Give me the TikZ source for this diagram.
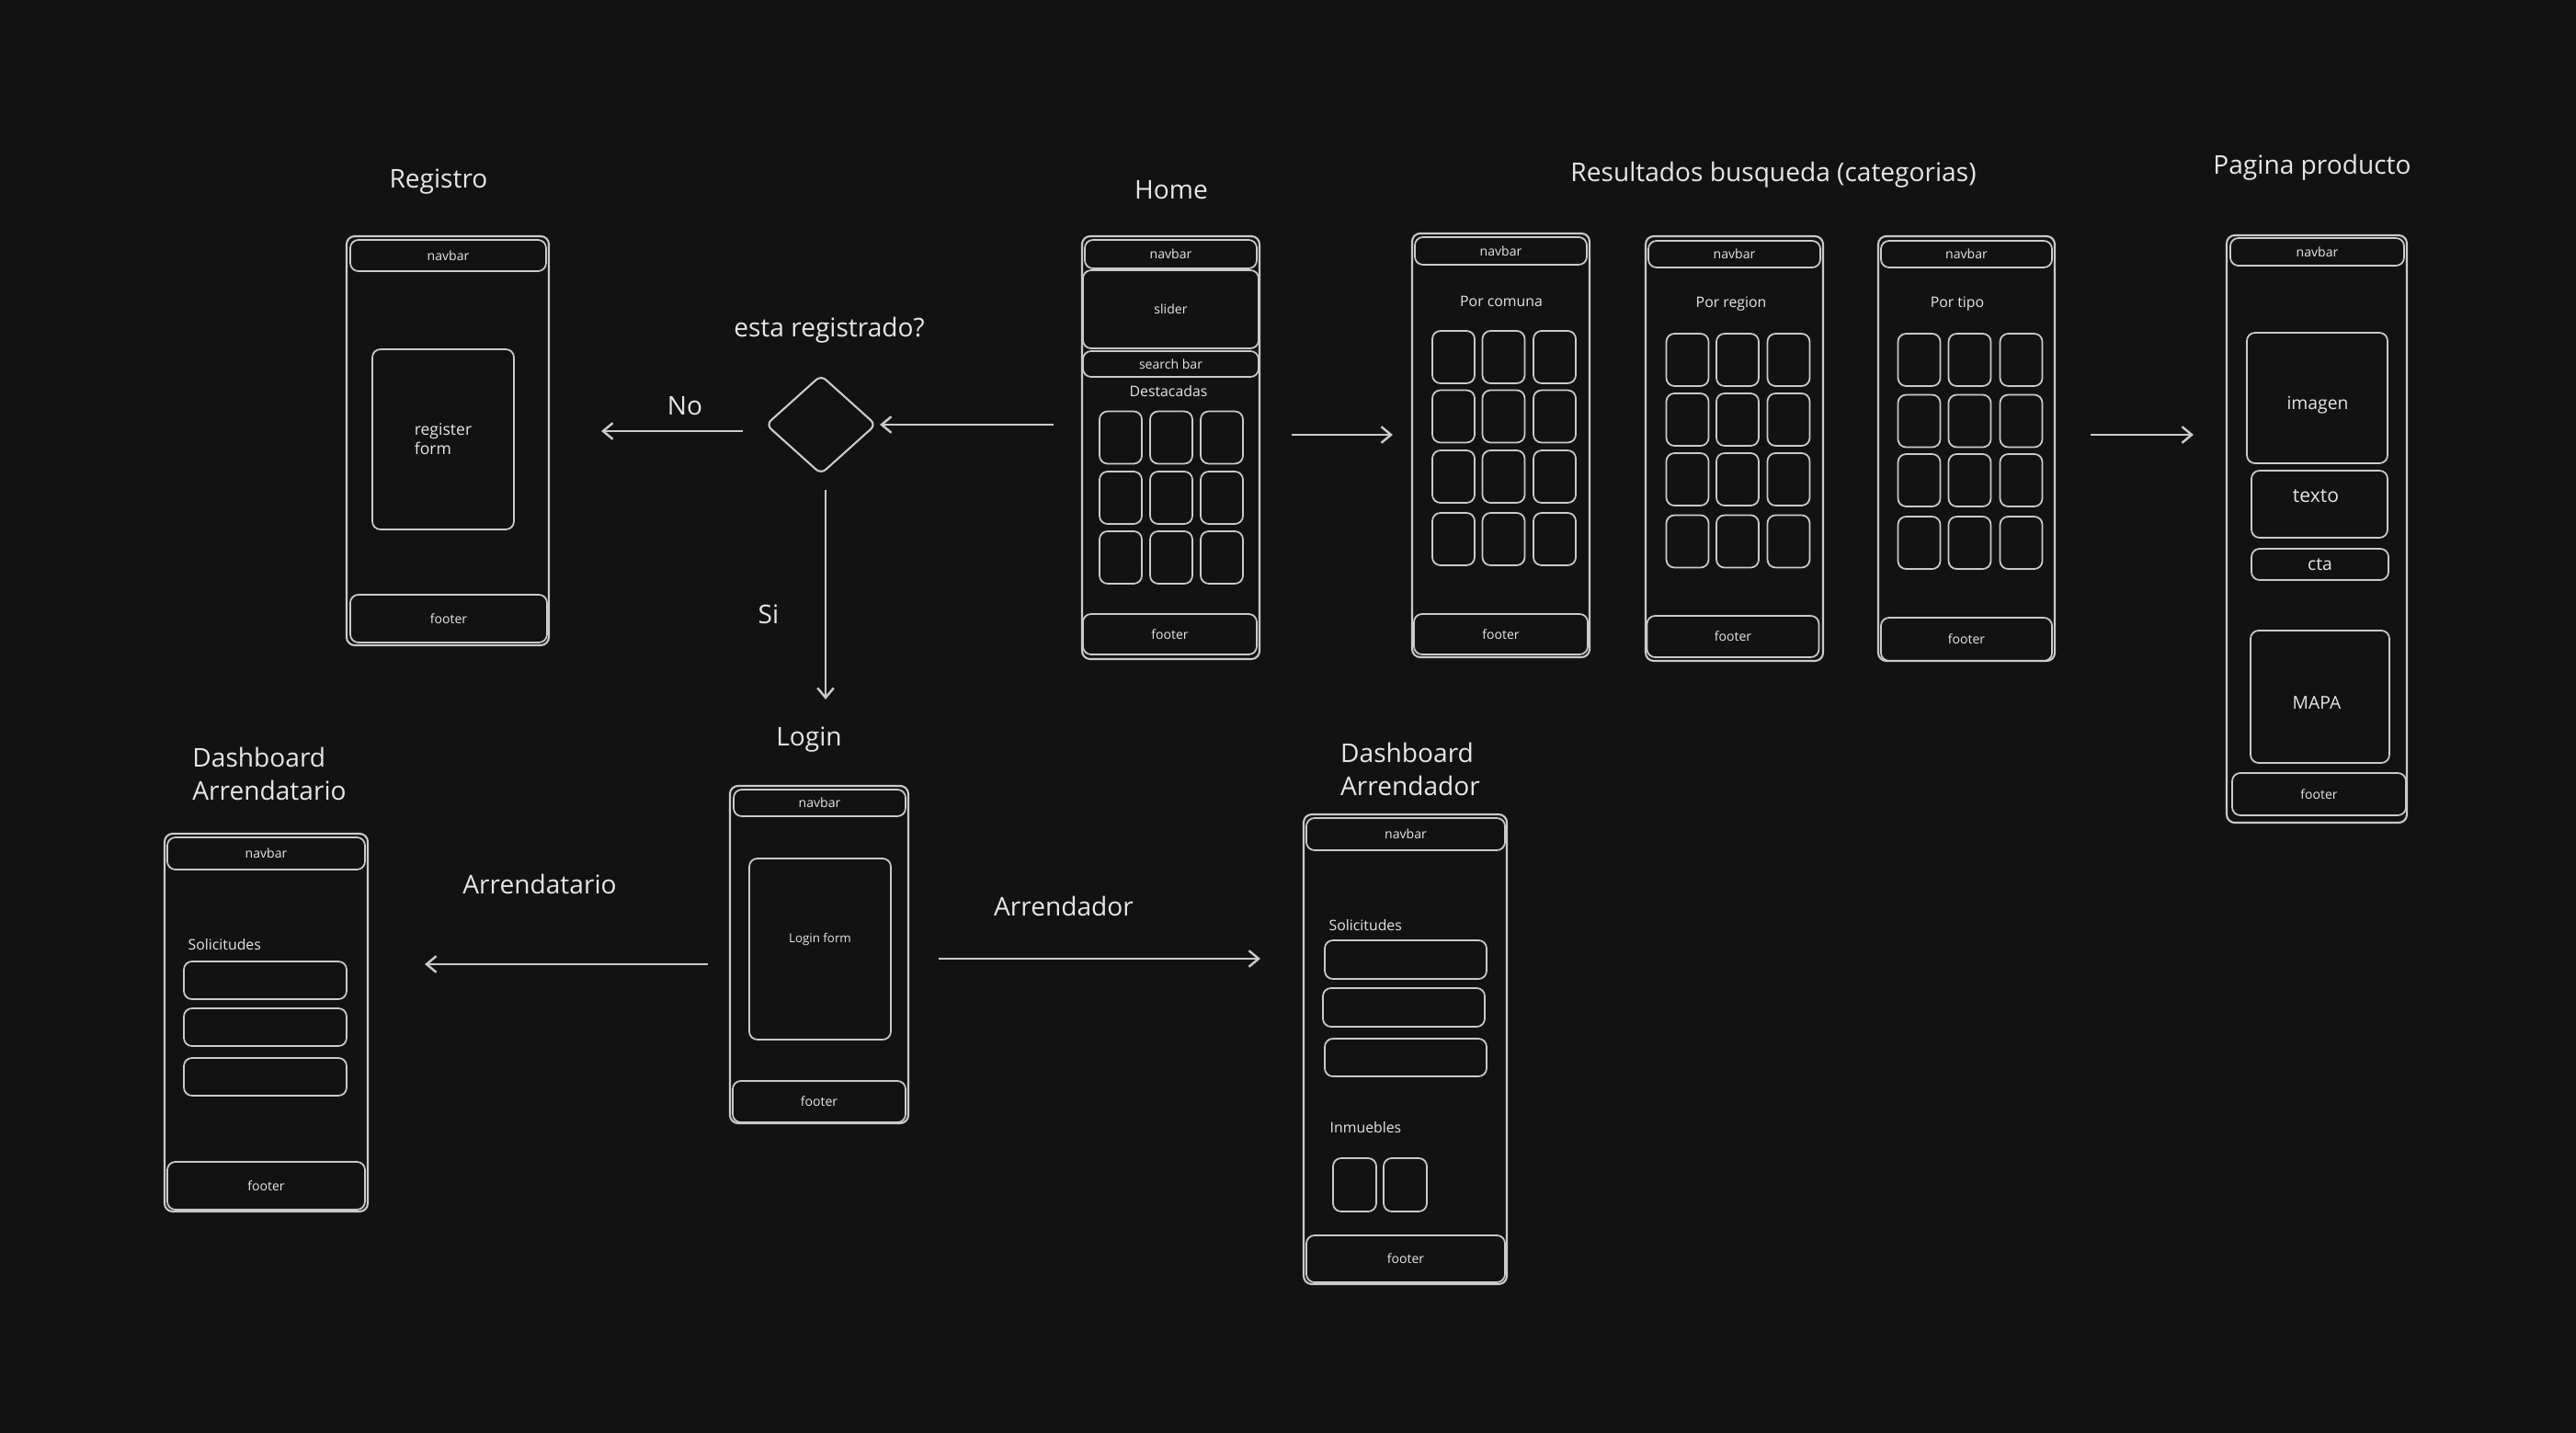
\documentclass[tikz,border=0pt]{standalone}
\usepackage{fontspec}
\setmainfont{Open Sans}
\usetikzlibrary{shapes.geometric, arrows.meta}
\definecolor{bg}{HTML}{121212}
\definecolor{line}{HTML}{CACACA}
\definecolor{ink}{HTML}{E6E6E6}
\tikzstyle{screen}=[rectangle, draw=line, rounded corners=2.5pt, line width=0.6pt, inner sep=0pt, text=ink]
\tikzstyle{part}=[rectangle, draw=line, rounded corners=2.5pt, line width=0.5pt, inner sep=0pt, text=ink, font=\fontsize{4}{5}\selectfont]
\tikzstyle{card}=[part, minimum width=0.46cm, minimum height=0.57cm]
\tikzstyle{title}=[text=ink, font=\fontsize{8}{10.5}\selectfont]
\tikzstyle{caption}=[text=ink, font=\fontsize{4.5}{5}\selectfont]
\tikzstyle{inside}=[text=ink, font=\fontsize{5.5}{6}\selectfont]
\tikzstyle{flow}=[->, draw=line, line width=0.7pt]

\begin{document}
\begin{tikzpicture}[x=1cm, y=-1cm, >={Straight Barb[length=3pt, width=5pt]}]
                \fill[bg] (0,0) rectangle (28.02,15.59);
                \useasboundingbox (0,0) rectangle (28.02,15.59);
                % registro
                \node[title] (treg) at (4.77, 1.98) {Registro};
                \node[screen, minimum width=2.20cm, minimum height=4.45cm] (reg) at (4.87, 4.795) {};
                \node[part, minimum width=2.13cm, minimum height=0.34cm] (regnav) at (4.875, 2.78) {navbar};
                \node[part, minimum width=1.54cm, minimum height=1.96cm, align=left, font=\fontsize{5}{6}\selectfont] (regform) at (4.82, 4.78) {register\\form};
                \node[part, minimum width=2.14cm, minimum height=0.52cm] (regfoot) at (4.88, 6.73) {footer};
                % decision
                \node[title] (tdec) at (9.02, 3.59) {esta registrado?};
                \node[diamond, draw=line, line width=0.6pt, rounded corners=2pt, minimum width=1.20cm, minimum height=1.08cm, inner sep=0pt] (dec) at (8.93, 4.62) {};
                \node[title] (lno) at (7.45, 4.42) {No};
                \node[title] (lsi) at (8.36, 6.68) {Si};
                % home
                \node[title] (thome) at (12.74, 2.07) {Home};
                \node[screen, minimum width=1.93cm, minimum height=4.60cm] (home) at (12.735, 4.87) {};
                \node[part, minimum width=1.87cm, minimum height=0.31cm] (homenav) at (12.735, 2.765) {navbar};
                \node[part, minimum width=1.91cm, minimum height=0.85cm] (slider) at (12.735, 3.365) {slider};
                \node[part, minimum width=1.91cm, minimum height=0.28cm] (search) at (12.735, 3.96) {search bar};
                \node[caption] (dest) at (12.71, 4.26) {Destacadas};
                \foreach \i/\x in {1/12.19, 2/12.74, 3/13.29}
                    \foreach \j/\y in {1/4.76, 2/5.415, 3/6.065}
                        \node[card] (hc\i\j) at (\x, \y) {};
                \node[part, minimum width=1.89cm, minimum height=0.44cm] (homefoot) at (12.725, 6.90) {footer};
                % resultados
                \node[title] (tres) at (19.29, 1.90) {Resultados busqueda (categorias)};
                \node[screen, minimum width=1.93cm, minimum height=4.61cm] (comuna) at (16.325, 4.845) {};
                \node[part, minimum width=1.87cm, minimum height=0.30cm] (comnav) at (16.325, 2.73) {navbar};
                \node[caption] (lcom) at (16.33, 3.28) {Por comuna};
                \foreach \i/\x in {1/15.81, 2/16.355, 3/16.91}
                    \foreach \j/\y in {1/3.885, 2/4.53, 3/5.185, 4/5.865}
                        \node[card] (cc\i\j) at (\x, \y) {};
                \node[part, minimum width=1.89cm, minimum height=0.44cm] (comfoot) at (16.325, 6.90) {footer};
                \node[screen, minimum width=1.93cm, minimum height=4.62cm] (region) at (18.865, 4.88) {};
                \node[part, minimum width=1.87cm, minimum height=0.29cm] (regnnav) at (18.865, 2.765) {navbar};
                \node[caption] (lregn) at (18.83, 3.31) {Por region};
                \foreach \i/\x in {1/18.355, 2/18.90, 3/19.455}
                    \foreach \j/\y in {1/3.915, 2/4.565, 3/5.215, 4/5.89}
                        \node[card] (rc\i\j) at (\x, \y) {};
                \node[part, minimum width=1.87cm, minimum height=0.45cm] (regnfoot) at (18.85, 6.925) {footer};
                \node[screen, minimum width=1.92cm, minimum height=4.62cm] (tipo) at (21.39, 4.88) {};
                \node[part, minimum width=1.86cm, minimum height=0.29cm] (tiponav) at (21.39, 2.765) {navbar};
                \node[caption] (ltipo) at (21.29, 3.31) {Por tipo};
                \foreach \i/\x in {1/20.875, 2/21.425, 3/21.985}
                    \foreach \j/\y in {1/3.915, 2/4.58, 3/5.225, 4/5.905}
                        \node[card] (tc\i\j) at (\x, \y) {};
                \node[part, minimum width=1.86cm, minimum height=0.47cm] (tipofoot) at (21.39, 6.955) {footer};
                % pagina producto
                \node[title] (tprod) at (25.15, 1.82) {Pagina producto};
                \node[screen, minimum width=1.96cm, minimum height=6.39cm] (prod) at (25.20, 5.755) {};
                \node[part, minimum width=1.89cm, minimum height=0.30cm] (prodnav) at (25.205, 2.74) {navbar};
                \node[part, minimum width=1.53cm, minimum height=1.42cm] (img) at (25.205, 4.33) {};
                \node[inside] (limg) at (25.21, 4.41) {imagen};
                \node[part, minimum width=1.48cm, minimum height=0.73cm] (txt) at (25.23, 5.485) {};
                \node[inside, font=\fontsize{6}{7}\selectfont] (ltxt) at (25.19, 5.40) {texto};
                \node[part, minimum width=1.49cm, minimum height=0.34cm, font=\fontsize{5.5}{6}\selectfont] (cta) at (25.235, 6.14) {cta};
                \node[part, minimum width=1.51cm, minimum height=1.44cm] (mapa) at (25.235, 7.58) {};
                \node[inside] (lmapa) at (25.20, 7.65) {MAPA};
                \node[part, minimum width=1.89cm, minimum height=0.46cm] (prodfoot) at (25.225, 8.64) {footer};
                % login
                \node[title] (tlgn) at (8.80, 8.05) {Login};
                \node[screen, minimum width=1.94cm, minimum height=3.67cm] (lgn) at (8.91, 10.385) {};
                \node[part, minimum width=1.87cm, minimum height=0.29cm] (lgnnav) at (8.915, 8.735) {navbar};
                \node[part, minimum width=1.54cm, minimum height=1.97cm] (lgnform) at (8.92, 10.325) {};
                \node[inside, font=\fontsize{3.8}{5}\selectfont] (llgn) at (8.92, 10.22) {Login form};
                \node[part, minimum width=1.88cm, minimum height=0.45cm] (lgnfoot) at (8.91, 11.985) {footer};
                % dashboard arrendatario
                \node[title, align=left] (tdta) at (2.93, 8.42) {Dashboard\\Arrendatario};
                \node[screen, minimum width=2.21cm, minimum height=4.11cm] (dta) at (2.895, 11.125) {};
                \node[part, minimum width=2.15cm, minimum height=0.35cm] (dtanav) at (2.895, 9.285) {navbar};
                \node[caption, anchor=west, inner sep=0pt] (dtasol) at (2.04, 10.28) {Solicitudes};
                \node[part, minimum width=1.77cm, minimum height=0.41cm] (dtas1) at (2.885, 10.665) {};
                \node[part, minimum width=1.77cm, minimum height=0.41cm] (dtas2) at (2.885, 11.175) {};
                \node[part, minimum width=1.77cm, minimum height=0.41cm] (dtas3) at (2.885, 11.715) {};
                \node[part, minimum width=2.15cm, minimum height=0.52cm] (dtafoot) at (2.895, 12.90) {footer};
                % dashboard arrendador
                \node[title, align=left] (tdar) at (15.34, 8.37) {Dashboard\\Arrendador};
                \node[screen, minimum width=2.21cm, minimum height=5.11cm] (dar) at (15.285, 11.415) {};
                \node[part, minimum width=2.16cm, minimum height=0.35cm] (darnav) at (15.29, 9.075) {navbar};
                \node[caption, anchor=west, inner sep=0pt] (darsol) at (14.45, 10.07) {Solicitudes};
                \node[part, minimum width=1.76cm, minimum height=0.42cm] (dars1) at (15.29, 10.44) {};
                \node[part, minimum width=1.76cm, minimum height=0.42cm] (dars2) at (15.27, 10.96) {};
                \node[part, minimum width=1.76cm, minimum height=0.41cm] (dars3) at (15.29, 11.505) {};
                \node[caption, anchor=west, inner sep=0pt] (darinm) at (14.46, 12.27) {Inmuebles};
                \node[part, minimum width=0.47cm, minimum height=0.58cm] (dari1) at (14.735, 12.89) {};
                \node[part, minimum width=0.47cm, minimum height=0.58cm] (dari2) at (15.285, 12.89) {};
                \node[part, minimum width=2.16cm, minimum height=0.51cm] (darfoot) at (15.29, 13.695) {footer};
                \node[title] (ldta) at (5.87, 9.62) {Arrendatario};
                \node[title] (ldar) at (11.57, 9.86) {Arrendador};
                % flechas
                \coordinate (nout) at ([yshift=-0.07cm]dec.west);
                \coordinate (sout) at ([xshift=0.05cm]dec.south);
                \coordinate (hout) at ([yshift=0.14cm]home.east);
                \coordinate (tout) at ([yshift=0.15cm]tipo.east);
                \coordinate (lout) at ([yshift=-0.105cm]lgn.west);
                \coordinate (rout) at ([yshift=-0.045cm]lgn.east);
                \draw[flow, shorten <=0.30cm, shorten >=0.03cm] (dec.east -| home.west) -- (dec.east);
                \draw[flow, shorten <=0.24cm, shorten >=0.56cm] (nout) -- (nout -| reg.east);
                \draw[flow, shorten <=0.16cm, shorten >=0.93cm] (sout) -- (sout |- lgn.north);
                \draw[flow, shorten <=0.34cm, shorten >=0.20cm] (hout) -- (hout -| comuna.west);
                \draw[flow, shorten <=0.38cm, shorten >=0.35cm] (tout) -- (tout -| prod.west);
                \draw[flow, shorten <=0.23cm, shorten >=0.61cm] (lout) -- (lout -| dta.east);
                \draw[flow, shorten <=0.32cm, shorten >=0.46cm] (rout) -- (rout -| dar.west);
\end{tikzpicture}
\end{document}
